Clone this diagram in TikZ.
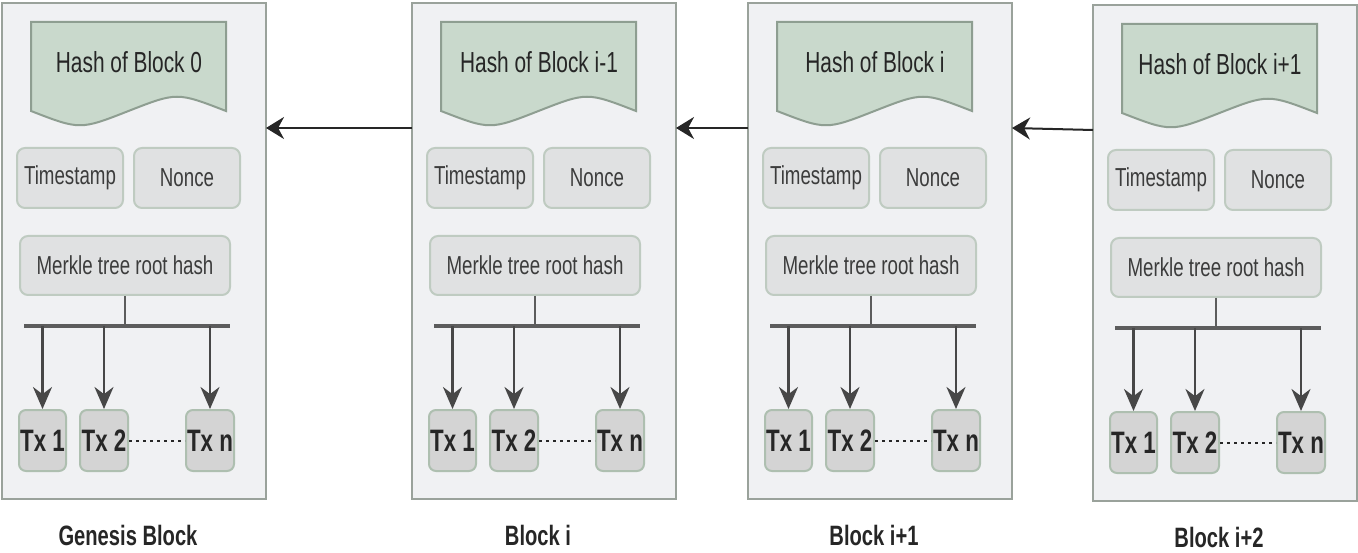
\documentclass[tikz,border=0pt]{standalone}
\usepackage{fontspec}
\setmainfont[FakeStretch=0.72]{Liberation Sans}
\usetikzlibrary{arrows.meta}

\definecolor{boxfill}{HTML}{F0F1F3}
\definecolor{boxline}{HTML}{9AA29B}
\definecolor{hashfill}{HTML}{C9D9CC}
\definecolor{hashline}{HTML}{8E9E91}
\definecolor{fieldfill}{HTML}{E0E1E2}
\definecolor{fieldline}{HTML}{BFCBC1}
\definecolor{txfill}{HTML}{D4D4D4}
\definecolor{txline}{HTML}{AEBFB0}
\definecolor{ink}{HTML}{262626}

\tikzset{
  blockbox/.style={draw=boxline, fill=boxfill, line width=2pt,
    minimum width=264pt, minimum height=496pt, inner sep=0pt},
  hashdoc/.style={draw=hashline, fill=hashfill, line width=2pt},
  field/.style={draw=fieldline, fill=fieldfill, line width=2pt, rounded corners=8pt,
    minimum height=60pt, inner sep=0pt, text=ink!90, font=\fontsize{26}{28}\selectfont},
  txbox/.style={draw=txline, fill=txfill, line width=2pt, rounded corners=7pt,
    minimum height=61pt, inner sep=0pt, text=ink, font=\bfseries\fontsize{31}{32}\selectfont},
  chainarrow/.style={draw=ink, line width=2pt, -{Stealth[length=18pt,width=22pt]}},
  fork/.style={draw=ink!85, line width=2.5pt, -{Stealth[length=22pt,width=19pt]}},
}

\begin{document}
\begin{tikzpicture}[x=1pt, y=-1pt]

      % picture frame (pixel units, y downwards)
      \useasboundingbox (0,0) rectangle (1358,553);

      % one block per entry: index / left / top / hash text / caption
      \foreach \i/\bx/\by/\hashtxt/\blktxt in {
          0/2/3/{Hash of Block 0}/{Genesis Block},
          1/412/3/{Hash of Block i-1}/{Block i},
          2/748/3/{Hash of Block i}/{Block i+1},
          3/1093/5/{Hash of Block i+1}/{Block i+2}} {
        \begin{scope}[shift={(\bx,\by)}]

          % outer block
          \node[blockbox] (blk\i) at (132,248) {};
          \coordinate (lft\i) at (0,125);
          \coordinate (rgt\i) at (264,125);

          % hash of the previous block (document shape)
          \draw[hashdoc] (29,19) -- (224,19) -- (224,108)
            .. controls (175,89) .. (126.5,108)
            .. controls (78,127) .. (29,108) -- cycle;
          \node[text=ink, font=\fontsize{29}{30}\selectfont] (hash\i) at (127,59) {\hashtxt};

          % header fields
          \node[field, minimum width=106pt] (ts\i) at (68,175) {Timestamp};
          \node[field, minimum width=106pt] (nonce\i) at (185,175) {Nonce};
          \node[field, minimum width=210pt, minimum height=59pt] (mk\i) at (123,262.5) {Merkle tree root hash};

          % transactions
          \node[txbox, minimum width=47pt] (txa\i) at (40.5,437.5) {Tx 1};
          \node[txbox, minimum width=48pt] (txb\i) at (102,437.5) {Tx 2};
          \node[txbox, minimum width=48pt] (txn\i) at (208,437.5) {Tx n};

          % bus from the merkle root down to the transactions
          \coordinate (busl\i) at (22,323);
          \coordinate (busr\i) at (228,323);
          \draw[ink!75, line width=4pt] (busl\i) -- (busr\i);
          \draw[ink!75, line width=2pt] (mk\i.south) -- (mk\i.south |- busl\i);
          \draw[fork] (txa\i.north |- busl\i) -- (txa\i.north);
          \draw[fork] (txb\i.north |- busl\i) -- (txb\i.north);
          \draw[fork] (txn\i.north |- busl\i) -- (txn\i.north);
          \draw[ink, line width=2pt, dash pattern=on 3pt off 4pt] (txb\i.east) -- (txn\i.west);

          % caption under the block
          \node[text=ink, font=\bfseries\fontsize{28}{29}\selectfont] (cap\i) at (126,532) {\blktxt};
        \end{scope}
      }

      % links back to the previous block
      \draw[chainarrow] (lft1) -- (rgt0);
      \draw[chainarrow] (lft2) -- (rgt1);
      \draw[chainarrow] (lft3) -- (rgt2);

\end{tikzpicture}
\end{document}
